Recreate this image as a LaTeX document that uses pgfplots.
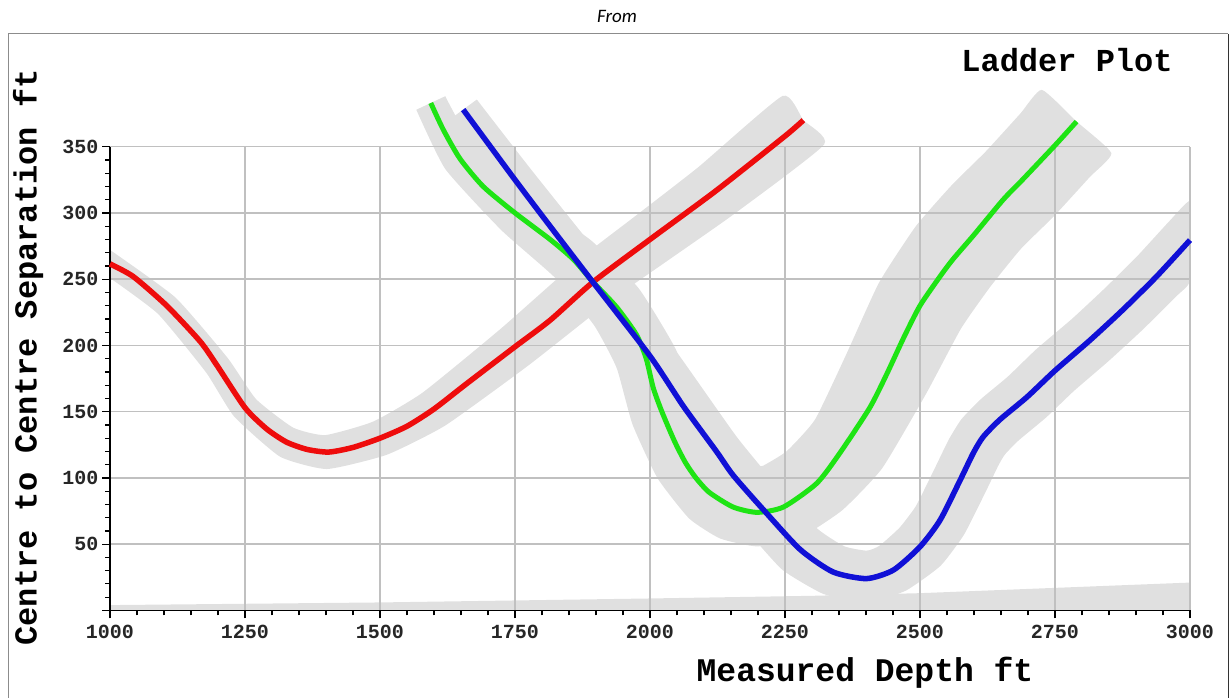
\documentclass[border=0pt]{standalone}
\usepackage{pgfplots}
\pgfplotsset{compat=1.18}
\usepackage{fontspec}
\setmainfont{Liberation Sans}
\setmonofont{Liberation Mono}
\newfontfamily\carlito{Carlito}
\definecolor{cred}{RGB}{238,12,12}
\definecolor{cgreen}{RGB}{30,228,20}
\definecolor{cblue}{RGB}{16,16,214}
\definecolor{band}{RGB}{224,224,224}
\definecolor{gridc}{RGB}{192,192,192}
\definecolor{framec}{RGB}{140,140,140}

\pgfplotstableread{
x y
1000 261.5
1043 252
1105 230
1167 203
1198 185
1250 153
1290 137
1327 127
1365 121.5
1405 119.5
1450 123
1500 130
1550 139
1600 152
1660 171
1750 199
1815 219
1895 248
2000 280
2123 317
2250 358
2284 370
}\redtab

\pgfplotstableread{
x y
1594 383
1617 363
1648 341
1691 320
1750 300
1815 280
1858 265
1892 249
1938 229
1975 208
1993 190
2006 168
2022 150
2045 128
2065 112
2085 100
2110 89
2154 78
2198 74
2247 78
2309 96
2352 119
2407 153
2438 178
2470 206
2500 230
2537 252
2561 265
2599 283
2654 310
2685 323
2750 351
2790 369
}\greentab

\pgfplotstableread{
x y
1654 378
1750 325
1815 290
1892 249
2000 192
2062 154
2123 120
2154 102
2210 76
2278 46
2339 29
2401 24
2451 30.5
2500 48
2537 68
2574 98
2599 119
2617 131
2648 144
2698 161
2750 181
2815 204
2876 227
2938 252
3000 279.5
}\bluetab

\begin{document}
\begin{tikzpicture}
\draw[line width=1pt, framec] (8pt,-2pt) -- (8pt,664pt) -- (1228pt,664pt);
\draw[line width=1pt, black!80] (1228pt,664pt) -- (1228pt,-2pt);
\node[font=\carlito\itshape\fontsize{19}{19}\selectfont, anchor=base] at (617pt,675pt) {From};
\begin{axis}[
 set layers,
 at={(110pt,87.6pt)}, anchor=south west,
 scale only axis, width=1080pt, height=463.7pt,
 xmin=1000, xmax=3000, ymin=0, ymax=350,
 axis x line*=bottom, axis y line*=left,
 axis line style={black, line width=1.6pt},
 xtick={1000,1250,...,3000}, ytick={0,50,...,350},
 yticklabels={,50,100,150,200,250,300,350},
 minor x tick num=4, minor y tick num=4,
 tick align=outside,
 major tick length=8pt, minor tick length=5pt,
 tick style={black, line width=1.2pt},
 grid=major,
 major grid style={gridc, line width=1.6pt},
 ticklabel style={font=\ttfamily\bfseries\fontsize{20}{20}\selectfont, text=black!85},
 xticklabel style={yshift=-3pt},
 /pgf/number format/assume math mode=true,
 /pgf/number format/1000 sep={},
 clip=false,
]
% uncertainty bands (separation factor envelopes)
\addplot[on layer=axis background, fill=band, draw=none]
  coordinates {(1000,0) (1000,4) (1500,6) (2000,9) (2300,11) (2500,13) (2750,17) (3000,21) (3000,0)};
\addplot[on layer=axis background, fill=band, draw=none, smooth, tension=0.3] coordinates {
 (1000,272.1) (1121.1,236.2) (1217.9,190.5) (1270.4,159.5) (1339,138) (1398.4,132.3)
 (1487.2,142.5) (1579,164.4) (1724.2,212.8) (1870.9,265.6) (1969.8,296.7) (2089.9,334.7) (2245.4,388.3)
 (2284,370) (2322.6,351.7) (2156.1,299.3) (2030.2,263.3) (1929.1,234.4) (1775.8,185.2) (1621,139.6)
 (1512.8,117.5) (1401.6,106.7) (1315,116) (1229.6,146.5) (1178.1,179.5) (1088.9,223.8) (1000,250.9)};
\addplot[on layer=axis background, fill=band, draw=none, smooth, tension=0.3] coordinates {
 (1620.8,388.1) (1675.2,348.8) (1775.3,313) (1891.9,278.9) (1979.4,242.9) (2047.7,197.1)
 (2076.5,159.5) (2119.4,124.9) (2153.3,111.6) (2184.1,107.2) (2198,108.7) (2209.5,109.2)
 (2253.2,120.2) (2305.5,144) (2362.5,192.4) (2423.9,247.2) (2491.8,289.7) (2558.9,321)
 (2622.3,346.6) (2685.6,374.9) (2725.6,392.9) (2790,369)
 (2854.4,345.1) (2814.4,327.1) (2747.7,297.4) (2687.1,273) (2630.2,244.3) (2576.1,212.8)
 (2511.8,163.9) (2430,107.3) (2356,75.6) (2275.5,54.3) (2198,48.3) (2129.6,54.3) (2072.4,69.4)
 (2013.8,99.9) (1967.5,140.5) (1938.3,182.9) (1896.6,215.1) (1824.1,251.1) (1724.7,287)
 (1620.8,333.2) (1567.2,377.9)};
\addplot[on layer=axis background, fill=band, draw=none, smooth, tension=0.3] coordinates {
 (1679.3,385.6) (1778.2,333.6) (1924.3,259.1) (2035.9,202.7) (2160.6,131) (2245.7,89.1)
 (2311.3,61.2) (2359.8,48.4) (2401,45.1) (2424.5,48.7) (2462.1,62.4) (2492.6,78.9)
 (2527.5,107.4) (2553.2,128.9) (2576.5,144.2) (2613.1,159.6) (2662.5,176.4) (2715,197)
 (2781.3,220) (2840.1,242.3) (2900.7,266.7) (2962,293.9) (3000,309) (3000,279.5)
 (3000,248.3) (2975.3,237.3) (2911.9,211.7) (2848.7,188) (2784.7,165.5) (2733.5,145.6)
 (2682.9,128.4) (2657.5,117.8) (2644.8,109.1) (2620.5,88.6) (2581.4,57.1) (2537.9,33.6)
 (2473.7,14.9) (2401,5.9) (2321.1,12.4) (2244.7,30.8) (2174.3,62.9) (2085.4,109)
 (1964.1,181.3) (1859.7,238.9) (1721.8,316.4) (1628.7,370.4)};
% centre-to-centre curves
\addplot[cred, line width=5.5pt, smooth, tension=0.4] table[x=x,y=y] {\redtab};
\addplot[cgreen, line width=5pt, smooth, tension=0.4] table[x=x,y=y] {\greentab};
\addplot[cblue, line width=5.5pt, smooth, tension=0.4] table[x=x,y=y] {\bluetab};
\end{axis}
\node[font=\ttfamily\bfseries\fontsize{33}{33}\selectfont] at (865pt,25pt) {Measured Depth ft};
\node[rotate=90, font=\ttfamily\bfseries\fontsize{32}{32}\selectfont] at (28pt,340.5pt) {Centre to Centre Separation ft};
\node[font=\ttfamily\bfseries\fontsize{32}{32}\selectfont] at (1067pt,638pt) {Ladder Plot};
\pgfresetboundingbox
\useasboundingbox (0,0) rectangle (1231pt,698pt);
\end{tikzpicture}
\end{document}
